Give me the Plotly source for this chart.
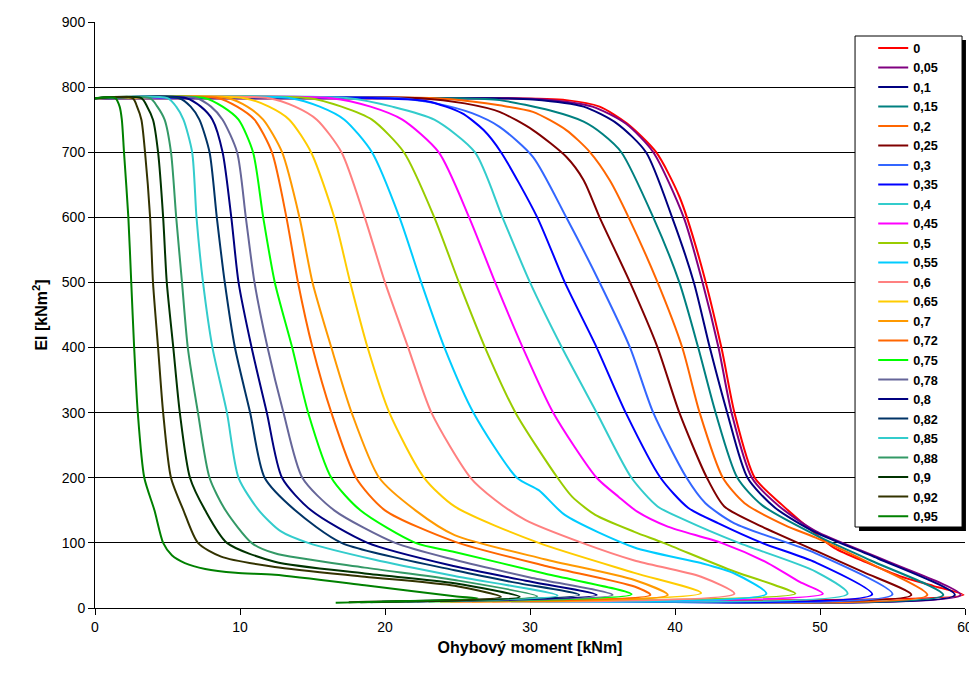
import plotly.graph_objects as go

# Legend labels (ratio values)
labels = ["0", "0,05", "0,1", "0,15", "0,2", "0,25", "0,3", "0,35", "0,4", "0,45", "0,5",
          "0,55", "0,6", "0,65", "0,7", "0,72", "0,75", "0,78", "0,8", "0,82", "0,85",
          "0,88", "0,9", "0,92", "0,95"]

colors = ["#FF0000", "#800080", "#000080", "#008080", "#FF6600", "#800000", "#3366FF",
          "#0000FF", "#33CCCC", "#FF00FF", "#99CC00", "#00CCFF", "#FF8080", "#FFCC00",
          "#FF9900", "#FF6600", "#00FF00", "#666699", "#000080", "#003366", "#33CCCC",
          "#339966", "#003300", "#333300", "#008000"]

# Ohybovy moment [kNm] and EI [kNm2] for each series
m_000 = [0, 27.9, 32.5, 34.8, 36.7, 38.7, 40.3, 41.7, 43.2, 44.1, 45.5, 47.4, 49.7, 51.0, 53.2, 55.5, 57.8, 59.9, 37.2]
ei_000 = [783, 783, 780, 770, 744, 700, 632, 535, 400, 300, 200, 158, 114, 92, 70, 49, 34, 20, 11]

m_005 = [0, 28, 31, 34.3, 36.6, 38.5, 40.6, 41.9, 43.0, 43.9, 45.3, 47.2, 49.7, 54.5, 59.7, 37.0]
ei_005 = [783, 783, 781, 770, 744, 700, 600, 500, 400, 300, 200, 156, 118, 73, 20, 11]

m_010 = [0, 27, 30.2, 33.7, 36.0, 38.0, 39.8, 41.3, 42.4, 43.6, 45.0, 46.9, 49.7, 54.0, 59.3, 36.8]
ei_010 = [783, 783, 781, 770, 744, 700, 600, 500, 400, 300, 200, 154, 116, 76, 20, 11]

m_015 = [0, 25, 27.9, 31.4, 33.7, 35.0, 36.3, 38.5, 40.3, 41.6, 42.8, 44.3, 46.0, 49.7, 53.5, 58.5, 36.3]
ei_015 = [783, 783, 780, 764, 747, 728, 700, 600, 500, 400, 300, 200, 158, 112, 73, 20, 11]

m_020 = [0, 23.5, 26, 27.9, 30.2, 32.5, 34.1, 35.5, 36.8, 38.8, 40.5, 41.7, 43.3, 44.8, 47.6, 49.7, 53.5, 57.4, 35.6]
ei_020 = [783, 783, 778, 772, 762, 734, 701, 657, 600, 500, 400, 300, 200, 161, 127, 108, 68, 20, 11]

m_025 = [0, 22.5, 25.5, 27.9, 30.2, 32.5, 33.7, 34.8, 36.9, 38.8, 40.3, 42.2, 43.4, 46.0, 49.7, 53.0, 56.3, 35.0]
ei_025 = [783, 783, 775, 762, 734, 693, 657, 600, 500, 400, 300, 200, 156, 125, 88, 55, 20, 11]

m_030 = [0, 21, 23.5, 26, 27.9, 30.2, 32.5, 34.8, 36.9, 38.5, 40.8, 42.1, 44.1, 49.7, 55.0, 34.1]
ei_030 = [783, 783, 775, 760, 739, 693, 600, 500, 400, 300, 200, 161, 130, 84, 21, 11]

m_035 = [0, 19.5, 23.0, 25.3, 26.8, 28.0, 30.5, 32.4, 34.6, 36.6, 39.0, 40.9, 43.0, 46.0, 49.7, 53.6, 33.2]
ei_035 = [783, 783, 778, 760, 734, 700, 600, 500, 400, 300, 200, 154, 130, 100, 70, 21, 11]

m_040 = [0, 17.5, 20.5, 23.4, 26.2, 28.1, 30.0, 32.2, 34.6, 37.0, 38.8, 40.7, 44.4, 49.7, 51.9, 32.2]
ei_040 = [783, 783, 770, 750, 700, 600, 500, 400, 300, 200, 156, 135, 100, 56, 22, 11]

m_045 = [0, 16.3, 19.0, 21.2, 23.7, 25.8, 27.6, 29.5, 31.6, 34.6, 36.1, 37.4, 39.5, 43.2, 46.4, 48.6, 50.2, 31.1]
ei_045 = [783, 783, 770, 750, 700, 600, 500, 400, 300, 200, 171, 148, 125, 100, 69, 40, 22, 10]

m_050 = [0, 14.8, 17.0, 19.1, 21.3, 23.4, 25.1, 26.9, 29.0, 31.9, 32.9, 34.5, 37.2, 39.2, 44.1, 46.9, 48.3, 30.0]
ei_050 = [783, 783, 770, 750, 700, 600, 500, 400, 300, 200, 171, 143, 117, 100, 56, 35, 22, 10]

m_055 = [0, 13.5, 15.5, 17.2, 19.1, 21.0, 22.5, 24.1, 26.1, 29.1, 30.6, 32.4, 37.2, 41.8, 44.1, 46.3, 28.7]
ei_055 = [783, 783, 770, 750, 700, 600, 500, 400, 300, 200, 181, 143, 93, 69, 53, 22, 10]

m_060 = [0, 12.0, 13.8, 15.3, 17.0, 18.6, 20.0, 21.6, 23.2, 25.9, 27.6, 29.7, 33.6, 37.2, 41.8, 44.1, 27.4]
ei_060 = [783, 783, 770, 750, 700, 600, 500, 400, 300, 200, 166, 135, 100, 73, 48, 22, 10]

m_065 = [0, 10.3, 12.0, 13.4, 14.9, 16.5, 17.6, 18.8, 20.3, 22.7, 24.8, 30.6, 37.2, 41.8, 26.0]
ei_065 = [783, 783, 770, 750, 700, 600, 500, 400, 300, 200, 156, 100, 54, 23, 10]

m_070 = [0, 9.2, 10.5, 11.6, 12.9, 14.1, 15.0, 16.3, 17.7, 19.6, 22.1, 24.8, 31.0, 37.2, 39.5, 24.5]
ei_070 = [783, 783, 770, 750, 700, 600, 500, 400, 300, 200, 150, 112, 75, 43, 20, 10]

m_072 = [0, 8.5, 9.8, 11.0, 12.2, 13.2, 14.0, 15.0, 16.3, 18.0, 20.0, 24.8, 31.0, 37.2, 38.3, 23.8]
ei_072 = [783, 783, 770, 750, 700, 600, 500, 400, 300, 200, 150, 102, 65, 33, 20, 10]

m_075 = [0, 7.6, 8.8, 9.9, 10.9, 11.6, 12.4, 13.6, 14.7, 16.3, 18.3, 22.1, 24.8, 31.0, 37.0, 23.0]
ei_075 = [783, 783, 770, 750, 700, 600, 500, 400, 300, 200, 150, 100, 86, 53, 21, 10]

m_078 = [0, 7.0, 8.0, 8.8, 9.8, 10.4, 11.0, 11.9, 13.0, 14.3, 16.5, 20.7, 24.8, 30.0, 35.7, 22.2]
ei_078 = [783, 783, 770, 750, 700, 600, 500, 400, 300, 200, 150, 100, 74, 47, 20, 10]

m_080 = [0, 6.3, 7.3, 8.1, 8.8, 9.4, 9.9, 10.8, 11.85, 12.9, 14.9, 18.8, 24.8, 29.7, 34.6, 21.5]
ei_080 = [783, 783, 770, 750, 700, 600, 500, 400, 300, 200, 150, 100, 64, 42, 20, 10]

m_082 = [0, 5.8, 6.6, 7.2, 7.9, 8.4, 8.95, 9.65, 10.7, 11.7, 13.8, 17.0, 24.8, 29.0, 33.4, 20.7]
ei_082 = [783, 783, 770, 750, 700, 600, 500, 400, 300, 200, 150, 100, 58, 39, 20, 10]

m_085 = [0, 5.0, 5.6, 6.1, 6.7, 7.0, 7.45, 8.1, 9.1, 9.9, 11.3, 12.8, 14.7, 19.3, 24.8, 31.9, 19.8]
ei_085 = [783, 783, 770, 750, 700, 600, 500, 400, 300, 200, 150, 118, 100, 74, 49, 19, 10]

m_088 = [0, 3.8, 4.3, 4.8, 5.24, 5.6, 6.0, 6.4, 7.1, 7.9, 9.0, 10.8, 12.4, 18.6, 24.8, 30.5, 19.0]
ei_088 = [783, 783, 770, 750, 700, 600, 500, 400, 300, 200, 150, 100, 84, 62, 43, 18, 9]

m_090 = [0, 3.2, 3.6, 4.0, 4.35, 4.7, 4.95, 5.4, 5.85, 6.55, 7.6, 9.1, 12.4, 18.6, 24.8, 29.3, 18.3]
ei_090 = [783, 783, 770, 750, 700, 600, 500, 400, 300, 200, 150, 100, 71, 53, 38, 17, 9]

m_092 = [0, 2.6, 2.9, 3.2, 3.45, 3.8, 4.0, 4.35, 4.7, 5.24, 6.1, 7.1, 8.7, 12.4, 18.6, 24.8, 28.0, 17.5]
ei_092 = [783, 783, 770, 750, 700, 600, 500, 400, 300, 200, 150, 100, 79, 63, 48, 34, 17, 9]

m_095 = [0, 1.4, 1.7, 1.85, 2.0, 2.3, 2.5, 2.7, 2.95, 3.4, 4.1, 4.7, 5.3, 6.2, 7.6, 9.7, 12.4, 18.6, 24.8, 26.4, 16.6]
ei_095 = [783, 783, 770, 750, 700, 600, 500, 400, 300, 200, 150, 100, 81, 69, 60, 54, 51, 35, 18, 15, 8]

series_m = [m_000, m_005, m_010, m_015, m_020, m_025, m_030, m_035, m_040, m_045, m_050,
            m_055, m_060, m_065, m_070, m_072, m_075, m_078, m_080, m_082, m_085,
            m_088, m_090, m_092, m_095]
series_ei = [ei_000, ei_005, ei_010, ei_015, ei_020, ei_025, ei_030, ei_035, ei_040, ei_045, ei_050,
             ei_055, ei_060, ei_065, ei_070, ei_072, ei_075, ei_078, ei_080, ei_082, ei_085,
             ei_088, ei_090, ei_092, ei_095]

x_ticks = [0, 10, 20, 30, 40, 50, 60]
y_ticks = [0, 100, 200, 300, 400, 500, 600, 700, 800, 900]

fig = go.Figure()
for lab, col, mx, ey in zip(labels, colors, series_m, series_ei):
    fig.add_trace(go.Scatter(
        x=mx, y=ey, mode="lines", name=lab,
        line=dict(color=col, width=2, shape="spline", smoothing=0.7),
    ))

# legend frame + shadow (paper coordinates)
fig.add_shape(type="rect", xref="paper", yref="paper",
              x0=0.8782, x1=1.0011, y0=0.1314, y1=0.9693,
              fillcolor="black", line=dict(width=0), layer="above")
fig.add_shape(type="rect", xref="paper", yref="paper",
              x0=0.8736, x1=0.9966, y0=0.1382, y1=0.9761,
              fillcolor="white", line=dict(color="black", width=1), layer="above")

fig.update_layout(
    width=969, height=673,
    margin=dict(l=87, r=12, t=14, b=73, autoexpand=False),
    paper_bgcolor="white", plot_bgcolor="white",
    font=dict(family="Liberation Sans, Arial, sans-serif", size=14, color="black"),
    showlegend=True,
    legend=dict(
        x=0.8945, y=0.981, xanchor="left", yanchor="top",
        bgcolor="rgba(0,0,0,0)", borderwidth=0,
        font=dict(family="Liberation Sans, Arial, sans-serif", size=12.7, color="black", weight="bold"),
        tracegroupgap=0, itemwidth=30,
    ),
    xaxis=dict(
        range=[0, 60], tickvals=x_ticks, showgrid=False, zeroline=False,
        showline=True, linecolor="black", linewidth=1,
        ticks="outside", ticklen=6, tickcolor="black",
        title=dict(text="<b>Ohybový moment [kNm]</b>", font=dict(size=16), standoff=8),
        tickfont=dict(size=14),
    ),
    yaxis=dict(
        range=[0, 900], tickvals=y_ticks, showgrid=True, gridcolor="black", gridwidth=1,
        zeroline=False, showline=True, linecolor="black", linewidth=1,
        ticks="outside", ticklen=6, tickcolor="black",
        title=dict(text="<b>EI [kNm<sup>2</sup>]</b>", font=dict(size=16), standoff=10),
        tickfont=dict(size=14),
    ),
)

fig.write_html("out.html")
